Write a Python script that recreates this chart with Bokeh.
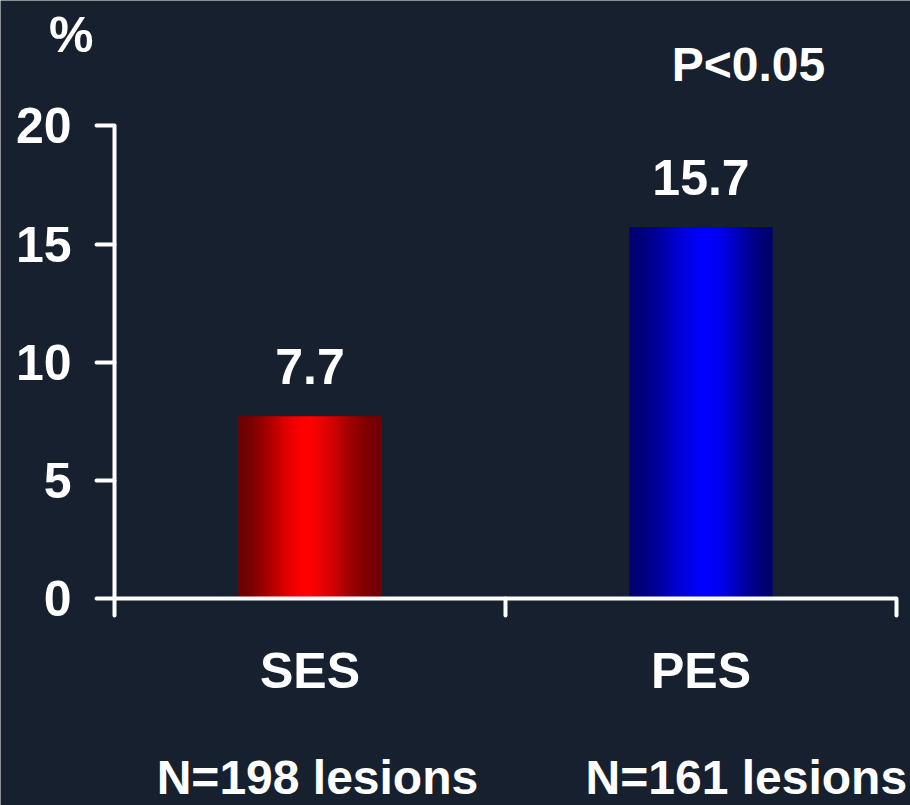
import numpy as np
from bokeh.plotting import figure
from bokeh.models import Range1d, FixedTicker
from bokeh.embed import file_html
from bokeh.resources import INLINE
from bokeh.core.properties import value

# Data
groups = ["SES", "PES"]
rates = [7.7, 15.7]
lesion_counts = ["N=198 lesions", "N=161 lesions"]
y_ticks = [0, 5, 10, 15, 20]
p_value_text = "P<0.05"
unit_text = "%"

# Style
BG = "#16202e"
FONT = "Liberation Sans"
TEXT_SIZE = "50px"
bar_width = 0.365
peak_rgb = [(255, 0, 0), (0, 0, 255)]
peak_at = [0.48, 0.52]
edge_level = 0.45

positions = [i + 0.5 for i in range(len(groups))]

# The frame fills the whole canvas; axes sit at fixed data locations inside it
p = figure(
    width=910, height=805,
    x_range=Range1d(-0.2916, 2.0358), y_range=Range1d(-8.762, 25.31),
    output_backend="svg", toolbar_location=None,
    min_border=0,
)
p.background_fill_color = BG
p.border_fill_color = BG
p.outline_line_color = None
p.grid.grid_line_color = None

# Bars with a horizontal "cylinder" shading, built from thin strips
n_strips = 70
for pos, val, rgb, peak in zip(positions, rates, peak_rgb, peak_at):
    edges = np.linspace(pos - bar_width / 2, pos + bar_width / 2, n_strips + 1)
    mids = (edges[:-1] + edges[1:]) / 2
    t = (mids - edges[0]) / bar_width
    d = np.where(t < peak, (peak - t) / peak, (t - peak) / (1 - peak))
    k = edge_level + (1 - edge_level) * np.cos(np.pi / 2 * d) ** 2
    colors = ["#%02x%02x%02x" % tuple(int(round(c * kk)) for c in rgb) for kk in k]
    p.quad(left=edges[:-1], right=edges[1:], bottom=0, top=val,
           fill_color=colors, line_color=colors, line_width=0.6)

text_style = dict(text_baseline="alphabetic", text_font=value(FONT),
                  text_font_style="bold", text_color="white")

# Value labels above bars
p.text(x=positions, y=rates, text=[f"{v}" for v in rates],
       text_align="center", y_offset=-50, text_font_size=TEXT_SIZE, **text_style)

# Y axis
ya = p.yaxis[0]
ya.fixed_location = 0
ya.ticker = FixedTicker(ticks=y_ticks)
ya.bounds = (y_ticks[0], y_ticks[-1])
ya.axis_line_color = "white"
ya.axis_line_width = 4
ya.major_tick_line_color = "white"
ya.major_tick_line_width = 4
ya.major_tick_line_cap = "round"
ya.major_tick_out = 18
ya.major_tick_in = 0
ya.minor_tick_line_color = None
ya.major_label_standoff = 25
ya.major_label_text_font = FONT
ya.major_label_text_font_style = "bold"
ya.major_label_text_font_size = TEXT_SIZE
ya.major_label_text_color = "white"

# X axis: group names centred, separators as minor ticks
xa = p.xaxis[0]
xa.fixed_location = 0
xa.ticker = FixedTicker(ticks=positions, minor_ticks=list(range(len(groups) + 1)))
xa.major_label_overrides = {pos: g for pos, g in zip(positions, groups)}
xa.bounds = (0, len(groups))
xa.axis_line_color = "white"
xa.axis_line_width = 4
xa.major_tick_line_color = None
xa.major_tick_out = 0
xa.major_tick_in = 0
xa.minor_tick_line_color = "white"
xa.minor_tick_line_width = 4
xa.minor_tick_line_cap = "round"
xa.minor_tick_out = 17
xa.minor_tick_in = 0
xa.major_label_standoff = 28
xa.major_label_text_font = FONT
xa.major_label_text_font_style = "bold"
xa.major_label_text_font_size = TEXT_SIZE
xa.major_label_text_color = "white"

# Sample sizes under the group names
p.text(x=[0.519, 1.616], y=[-7.577, -7.577], text=lesion_counts,
       text_align="center", text_font_size="48px", **text_style)

# Unit and significance notes
p.text(x=[-0.111], y=[23.87], text=[unit_text], text_align="center",
       text_font_size=TEXT_SIZE, **text_style)
p.text(x=[1.6215], y=[22.6], text=[p_value_text], text_align="center",
       text_font_size="48px", **text_style)

open("out.html", "w").write(file_html(p, INLINE))
